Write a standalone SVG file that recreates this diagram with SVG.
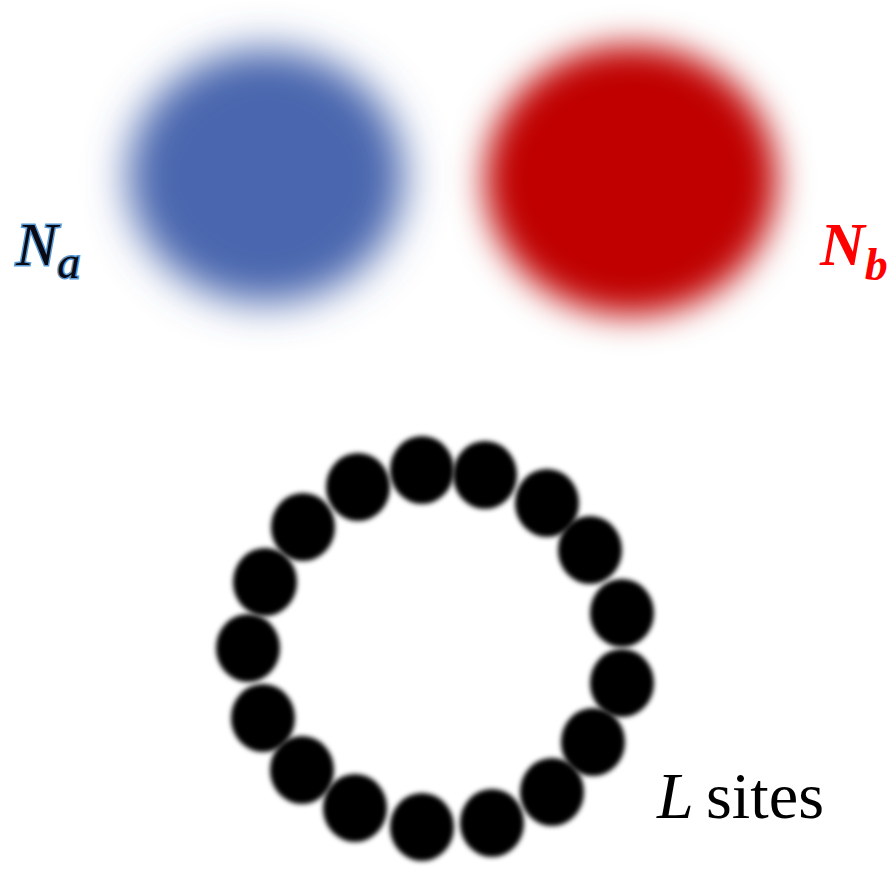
<svg xmlns="http://www.w3.org/2000/svg" width="892" height="871" viewBox="0 0 892 871">
<style>
.dot{fill:#000;filter:url(#bd);}
</style>
<defs>
<filter id="bb" x="-50%" y="-50%" width="200%" height="200%"><feGaussianBlur stdDeviation="21"/></filter>
<filter id="br" x="-50%" y="-50%" width="200%" height="200%"><feGaussianBlur stdDeviation="17"/></filter>
<filter id="bd" x="-50%" y="-50%" width="200%" height="200%"><feGaussianBlur stdDeviation="2.6"/></filter>
</defs>
<rect width="892" height="871" fill="#fff"/>
<g id="blob-a"><ellipse cx="266" cy="176" rx="138" ry="127" fill="#4866AE" filter="url(#bb)"/></g>
<g id="blob-b"><ellipse cx="631" cy="180" rx="146" ry="135" fill="#C00000" filter="url(#br)"/></g>
<g id="label-a"><text font-family="Liberation Serif, DejaVu Serif, serif" x="16" y="265" font-size="62" font-style="italic" fill="#0a0a14" stroke="#5B9BD5" stroke-width="3" paint-order="stroke">N<tspan font-size="46" y="278">a</tspan></text></g>
<g id="label-b"><text font-family="Liberation Serif, DejaVu Serif, serif" x="820" y="265" font-size="62" font-style="italic" font-weight="bold" fill="#FF0000">N<tspan font-size="46" y="280">b</tspan></text></g>
<g id="ring">
<ellipse class="dot" cx="422" cy="470" rx="32" ry="34"/>
<ellipse class="dot" cx="485" cy="475" rx="32" ry="34"/>
<ellipse class="dot" cx="547" cy="503" rx="32" ry="34"/>
<ellipse class="dot" cx="590" cy="550" rx="32" ry="34"/>
<ellipse class="dot" cx="622" cy="613" rx="32" ry="34"/>
<ellipse class="dot" cx="622" cy="683" rx="32" ry="34"/>
<ellipse class="dot" cx="593" cy="742" rx="32" ry="34"/>
<ellipse class="dot" cx="552" cy="792" rx="32" ry="34"/>
<ellipse class="dot" cx="492" cy="823" rx="32" ry="34"/>
<ellipse class="dot" cx="422" cy="827" rx="32" ry="34"/>
<ellipse class="dot" cx="355" cy="808" rx="32" ry="34"/>
<ellipse class="dot" cx="302" cy="770" rx="32" ry="34"/>
<ellipse class="dot" cx="263" cy="718" rx="32" ry="34"/>
<ellipse class="dot" cx="248" cy="648" rx="32" ry="34"/>
<ellipse class="dot" cx="265" cy="582" rx="32" ry="34"/>
<ellipse class="dot" cx="303" cy="527" rx="32" ry="34"/>
<ellipse class="dot" cx="358" cy="487" rx="32" ry="34"/>
</g>
<g id="label-l"><text font-family="Liberation Serif, DejaVu Serif, serif" x="657" y="818" font-size="66" fill="#000"><tspan font-style="italic">L</tspan><tspan x="706" textLength="118" lengthAdjust="spacingAndGlyphs">sites</tspan></text></g>
</svg>
